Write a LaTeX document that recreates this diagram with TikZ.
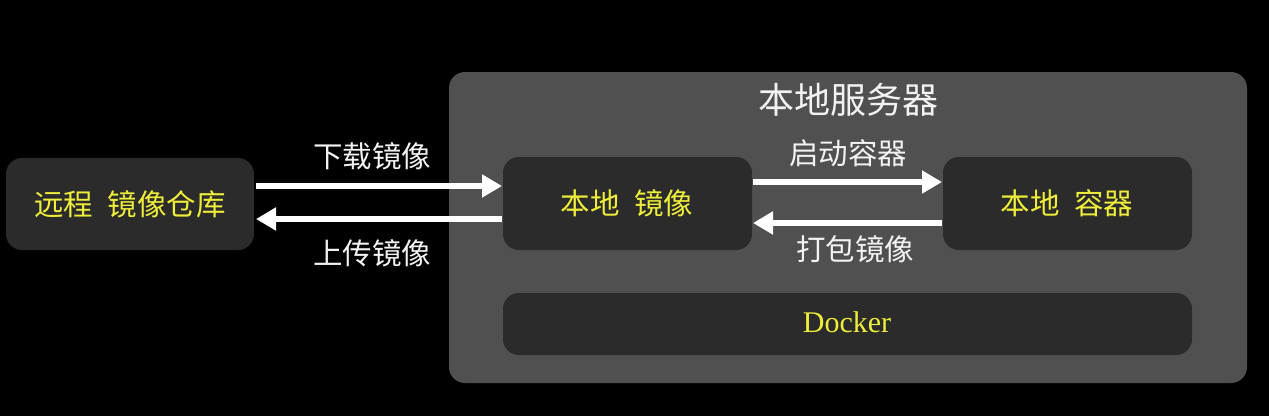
\documentclass[tikz,border=0pt]{standalone}
\usepackage{fontspec}
\newfontfamily\cjk{Noto Sans CJK SC}
\newfontfamily\dockerfont{Liberation Serif}
\usetikzlibrary{arrows.meta}
\definecolor{bgblack}{HTML}{000000}
\definecolor{server}{HTML}{505050}
\definecolor{boxfill}{HTML}{2B2B2B}
\definecolor{ytext}{HTML}{EEEE3A}
\definecolor{wtext}{HTML}{F2F2F2}
\tikzset{
  panel/.style={fill=boxfill, draw=none, rounded corners=16pt},
  ylabel/.style={text=ytext, font=\cjk\fontsize{29.5}{32}\selectfont},
  wlabel/.style={text=wtext, font=\cjk\fontsize{29.5}{32}\selectfont},
  bigarrow/.style={draw=white, line width=6pt, -{Triangle[length=20pt,width=22pt]}},
}
\begin{document}
\begin{tikzpicture}[x=1pt,y=-1pt]
\fill[bgblack] (0,0) rectangle (1269,416);
\useasboundingbox (0,0) rectangle (1269,416);
\fill[server, rounded corners=16pt] (449,72) rectangle (1247,383);
\node[text=wtext, font=\cjk\fontsize{36}{40}\selectfont] (title) at (848,100) {本地服务器};
\path[panel] (6,158) rectangle (254,250);
\node[ylabel] (remote) at (130,204) {远程\hspace{0.5em}镜像仓库};
\path[panel] (503,157) rectangle (752,250);
\node[ylabel] (img) at (627,203) {本地\hspace{0.5em}镜像};
\path[panel] (943,157) rectangle (1192,250);
\node[ylabel] (cont) at (1067,203) {本地\hspace{0.5em}容器};
\path[panel] (503,293) rectangle (1192,355);
\node[text=ytext, font=\dockerfont\fontsize{30}{32}\selectfont] (docker) at (847,322) {Docker};
\coordinate (a1s) at (256,186); \coordinate (a1e) at (502,186);
\coordinate (a2s) at (502,219); \coordinate (a2e) at (256,219);
\coordinate (a3s) at (753,182); \coordinate (a3e) at (942,182);
\coordinate (a4s) at (942,223); \coordinate (a4e) at (753,223);
\draw[bigarrow] (a1s) -- (a1e);
\draw[bigarrow] (a2s) -- (a2e);
\draw[bigarrow] (a3s) -- (a3e);
\draw[bigarrow] (a4s) -- (a4e);
\node[wlabel] (down) at (372,156) {下载镜像};
\node[wlabel] (up) at (372,253) {上传镜像};
\node[wlabel] (start) at (848,153) {启动容器};
\node[wlabel] (pack) at (855,249) {打包镜像};
\end{tikzpicture}
\end{document}
